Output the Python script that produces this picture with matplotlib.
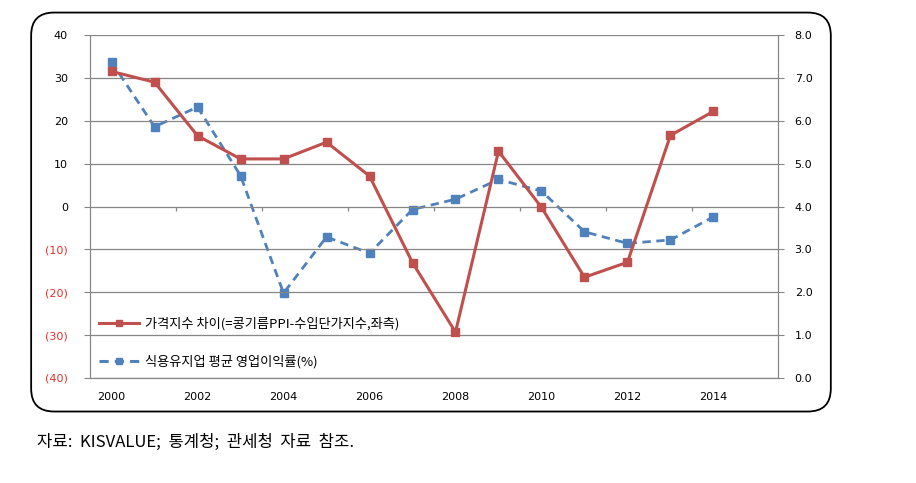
import numpy as np
import matplotlib.pyplot as plt
from matplotlib.patches import FancyBboxPatch
from matplotlib.lines import Line2D

plt.rcParams['font.family'] = ['Noto Sans CJK KR', 'DejaVu Sans']

# 데이터
years = list(range(2000, 2015))
price_gap = [31.5, 29.0, 16.5, 11.1, 11.1, 15.0, 7.1, -13.1, -29.3, 12.9, -0.2, -16.5, -13.0, 16.6, 22.2]
op_margin = [7.37, 5.86, 6.32, 4.72, 1.98, 3.29, 2.91, 3.93, 4.17, 4.63, 4.36, 3.41, 3.14, 3.22, 3.76]
left_ticks = [40, 30, 20, 10, 0, -10, -20, -30, -40]
right_ticks = [0, 1, 2, 3, 4, 5, 6, 7, 8]
xtick_years = [2000, 2002, 2004, 2006, 2008, 2010, 2012, 2014]

red = '#C0504D'
blue = '#4F81BD'
grid_c = '#868686'

fig = plt.figure(figsize=(9.16, 4.83), dpi=100)

frame = FancyBboxPatch((0.034, 0.148), 0.873, 0.826, boxstyle='round,pad=0,rounding_size=0.025',
                       transform=fig.transFigure, fill=False, edgecolor='black', linewidth=1.3,
                       mutation_aspect=916 / 483)
fig.patches.append(frame)

ax = fig.add_axes([0.0983, 0.2174, 0.7510, 0.7101])
ax2 = ax.twinx()

ax.set_xlim(1999.5, 2015.5)
ax.set_ylim(-40, 40)
ax2.set_ylim(0, 8)

for v in left_ticks:
    ax.axhline(v, color=grid_c, linewidth=0.9, zorder=0)

# 가로축(0 위치)의 눈금 표시: 두 해마다 경계에
ax.vlines(np.arange(2001.5, 2015, 2), 0, -0.95, color=grid_c, linewidth=0.9, zorder=0)

# 가격지수 차이
ax.plot(years, price_gap, linewidth=2.2, color=red, marker='s', markersize=5.5, zorder=3)

# 영업이익률
ax2.plot(years, op_margin, linestyle=(0, (3, 2)), linewidth=2.0, color=blue, marker='s', markersize=5.5, zorder=4)

ax.set_yticks(left_ticks)
ax.set_yticklabels([f'({abs(v)})' if v < 0 else str(v) for v in left_ticks], fontsize=8, family='DejaVu Sans')
for lbl, v in zip(ax.get_yticklabels(), left_ticks):
    lbl.set_color('#E0302A' if v < 0 else 'black')
ax2.set_yticks(right_ticks)
ax2.set_yticklabels([f'{v:.1f}' for v in right_ticks], fontsize=8, family='DejaVu Sans')

ax.set_xticks(xtick_years)
ax.set_xticklabels([str(y) for y in xtick_years], fontsize=8, family='DejaVu Sans')
ax.tick_params(axis='x', length=0, pad=10)
ax.tick_params(axis='y', length=4, color=grid_c, pad=12)
ax2.tick_params(axis='y', length=4, color=grid_c, pad=8)

for a in (ax, ax2):
    a.spines['top'].set_visible(False)
    for s in ('left', 'right', 'bottom'):
        a.spines[s].set_color(grid_c)
ax.set_zorder(ax2.get_zorder() + 1)
ax.patch.set_visible(False)

handles = [Line2D([], [], color=red, linewidth=2.2, marker='s', markersize=5),
           Line2D([], [], color=blue, linewidth=2.2, linestyle=(0, (3, 2)), marker='s', markersize=5)]
ax.legend(handles, ['가격지수 차이(=콩기름PPI-수입단가지수,좌측)', '식용유지업 평균 영업이익률(%)'],
          loc='lower left', bbox_to_anchor=(0.0, 0.0), frameon=False, fontsize=9.5,
          handlelength=3.0, handletextpad=0.5, labelspacing=1.9, borderaxespad=0.3)

fig.text(0.040, 0.085, '자료:  KISVALUE;  통계청;  관세청  자료  참조.', fontsize=12, va='center')

fig.savefig('out.png', dpi=100)
